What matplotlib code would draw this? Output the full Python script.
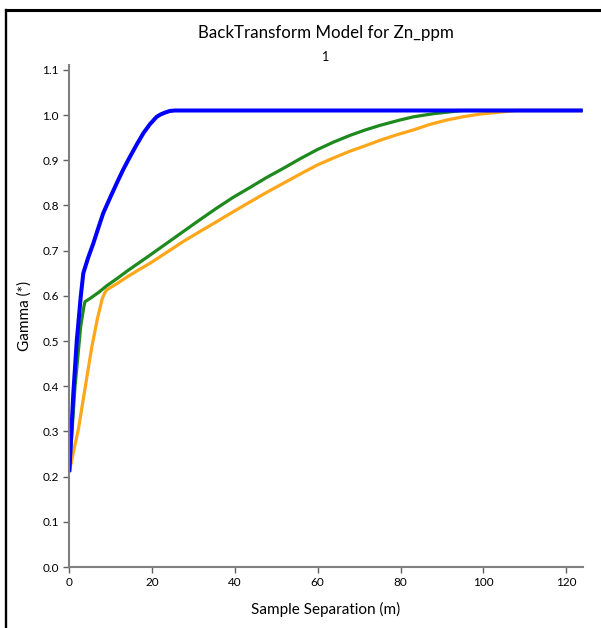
import numpy as np
import matplotlib.pyplot as plt
from matplotlib.lines import Line2D

plt.rcParams['font.family'] = ['Lato', 'DejaVu Sans']

# Values
blue_x = [0, 0.97, 1.8, 2.75, 3.38, 4.5, 5.8, 7.0, 8.2, 10.0, 11.45, 13.0, 14.67, 16.3,
          17.9, 19.5, 21.1, 22.0, 23.0, 24.3, 25.5, 124]
blue_y = [0.21, 0.384, 0.50, 0.597, 0.650, 0.683, 0.716, 0.750, 0.783, 0.820, 0.849, 0.879,
          0.908, 0.935, 0.960, 0.980, 0.996, 1.001, 1.005, 1.009, 1.01, 1.01]

green_x = [0, 1.38, 2.75, 3.5, 3.79, 5.0, 7.0, 9.0, 11.5, 14.0, 19.5, 23.5, 27.5, 31.5, 35.6,
           39.6, 43.7, 47.7, 51.7, 55.7, 59.8, 63.8, 67.8, 71.5, 75.0, 79.9, 83.1, 88.0,
           92.0, 95.0, 124]
green_y = [0.21, 0.399, 0.532, 0.575, 0.587, 0.594, 0.607, 0.622, 0.638, 0.655, 0.690, 0.716,
           0.742, 0.768, 0.794, 0.818, 0.840, 0.862, 0.882, 0.903, 0.923, 0.940, 0.955, 0.967,
           0.977, 0.989, 0.996, 1.003, 1.007, 1.01, 1.01]

orange_x = [0, 1.0, 2.2, 3.8, 5.4, 6.8, 8.0, 8.6, 9.0, 11.5, 14.0, 16.5, 19.5, 23.5, 27.5,
            31.5, 35.6, 39.6, 43.7, 47.7, 51.7, 55.7, 59.8, 63.8, 67.8, 71.5, 75.0, 79.0,
            83.1, 87.0, 91.2, 95.0, 99.2, 102.5, 105.6, 108.0, 124]
orange_y = [0.21, 0.255, 0.305, 0.395, 0.485, 0.550, 0.595, 0.607, 0.613, 0.627, 0.642, 0.656,
            0.672, 0.696, 0.720, 0.742, 0.764, 0.786, 0.808, 0.829, 0.849, 0.869, 0.889, 0.905,
            0.920, 0.932, 0.944, 0.956, 0.967, 0.979, 0.989, 0.996, 1.002, 1.005, 1.008, 1.01, 1.01]

fig = plt.figure(figsize=(6.01, 6.28), dpi=100)
ax = fig.add_axes([69.3 / 601, 1 - 567 / 628, (582.7 - 69.3) / 601, (567 - 65.3) / 628])

ax.plot(orange_x, orange_y, color='#FFA61A', lw=2.3, solid_capstyle='butt')
ax.plot(green_x, green_y, color='#1E8A1E', lw=2.3, solid_capstyle='butt')
ax.plot(blue_x, blue_y, color='#0000FF', lw=2.9, solid_capstyle='butt')

ax.set_xlim(0, 124)
ax.set_ylim(0, 1.11)
ax.set_xticks(np.arange(0, 121, 20))
ax.set_yticks(np.round(np.arange(0, 1.11, 0.1), 1))
ax.set_yticklabels([f"{v:.1f}" for v in np.arange(0, 1.11, 0.1)])

for s in ['top', 'right']:
    ax.spines[s].set_visible(False)
for s in ['left', 'bottom']:
    ax.spines[s].set_color('#808080')
    ax.spines[s].set_linewidth(1.5)
ax.tick_params(colors='#606060', labelcolor='black', labelsize=8.5, length=4, width=1)

ax.set_xlabel("Sample Separation (m)", fontsize=11, labelpad=10)
ax.set_ylabel("Gamma (*)", fontsize=11, labelpad=8)

fig.text(326 / 601, 1 - 33 / 628, "BackTransform Model for Zn_ppm", ha='center', va='center', fontsize=12.2)
fig.text(326 / 601, 1 - 57 / 628, "1", ha='center', va='center', fontsize=9)

# frame lines at top and left of the figure
fig.add_artist(Line2D([5.5 / 601, 1], [1 - 10 / 628, 1 - 10 / 628], color='black', lw=2.2,
                      transform=fig.transFigure))
fig.add_artist(Line2D([5.5 / 601, 5.5 / 601], [0, 1 - 10 / 628], color='black', lw=1.7,
                      transform=fig.transFigure))

fig.savefig("out.png", dpi=100)
